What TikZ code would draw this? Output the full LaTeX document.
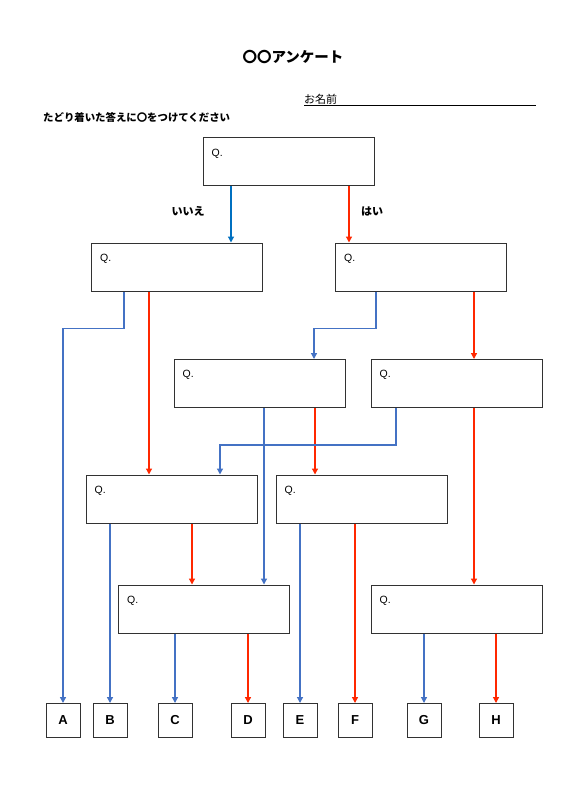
\documentclass[tikz,border=0pt]{standalone}
\usepackage{fontspec}
\setmainfont{Liberation Sans}
\newfontfamily\jp{Noto Sans CJK JP}
\usetikzlibrary{arrows.meta,positioning}
\definecolor{noblue}{RGB}{68,114,196}
\definecolor{topblue}{RGB}{0,112,192}
\definecolor{yesred}{RGB}{255,40,0}
\definecolor{boxgray}{RGB}{50,50,50}
\tikzset{
    qbox/.style={rectangle, draw=boxgray, line width=1pt, fill=white,
                 minimum width=171pt, minimum height=48pt,
                 label={[qlbl]north west:Q.}},
    qlbl/.style={anchor=north west, inner sep=0pt, xshift=9pt, yshift=-11pt,
                 font=\fontsize{10.5}{12}\selectfont},
    ansbox/.style={rectangle, draw=boxgray, line width=1pt,
                   minimum width=34pt, minimum height=34pt,
                   font=\fontsize{13}{15}\selectfont\bfseries},
    noarr/.style={-{Triangle[width=6pt,length=6pt]}, line width=1.3pt, draw=#1},
    noarr/.default=noblue,
    yesarr/.style={-{Triangle[width=6pt,length=6pt]}, line width=1.3pt, draw=yesred},
    lbl/.style={font=\jp\fontsize{11}{13}\selectfont\bfseries},
}
\begin{document}
\begin{tikzpicture}[x=1pt, y=-1pt]
    \useasboundingbox[fill=white] (0,0) rectangle (585,805);

    % Header
    \node[font=\jp\fontsize{14.5}{16}\selectfont\bfseries] (title) at (293,57) {〇〇アンケート};
    \node[anchor=south west, inner sep=0pt, font=\jp\fontsize{11}{13}\selectfont] (name) at (304,105) {お名前};
    \draw[line width=0.8pt] (name.south west) -- ++(232,0);
    \node[anchor=west, inner sep=0pt, font=\jp\fontsize{10.4}{12}\selectfont\bfseries] (note) at (43,118) {たどり着いた答えに〇をつけてください};

    % Question boxes
    \node[qbox] (q1) at (288.5,162) {};
    \node[qbox] (q2) at (177,267) {};
    \node[qbox] (q3) at (421,267) {};
    \node[qbox] (q4) at (259.5,383.5) {};
    \node[qbox] (q5) at (456.5,383.5) {};
    \node[qbox] (q6) at (171.5,499) {};
    \node[qbox] (q7) at (361.5,499) {};
    \node[qbox] (q8) at (204,609) {};
    \node[qbox] (q9) at (456.5,609) {};

    % Answer boxes
    \node[ansbox] (a) at (63,720.5)  {A};
    \node[ansbox] (b) at (110,720.5) {B};
    \node[ansbox] (c) at (175,720.5) {C};
    \node[ansbox] (d) at (248,720.5) {D};
    \node[ansbox] (e) at (300,720.5) {E};
    \node[ansbox] (f) at (355,720.5) {F};
    \node[ansbox] (g) at (424,720.5) {G};
    \node[ansbox] (h) at (496,720.5) {H};

    % First question
    \draw[noarr=topblue] ([xshift=-57.5pt]q1.south) -- ([xshift=-57.5pt]q1.south |- q2.north);
    \draw[yesarr]        ([xshift=60.5pt]q1.south) -- ([xshift=60.5pt]q1.south |- q3.north);
    \node[lbl] (no)  at (188,211) {いいえ};
    \node[lbl] (yes) at (372,211) {はい};

    % Second row
    \draw[noarr]  ([xshift=-53pt]q2.south) -- ++(0,37) -| (a.north);
    \draw[yesarr] ([xshift=-28pt]q2.south) -- ([xshift=-28pt]q2.south |- q6.north);
    \draw[noarr]  ([xshift=-45pt]q3.south) -- ++(0,37) -| ([xshift=54.5pt]q4.north);
    \draw[yesarr] ([xshift=53pt]q3.south) -- ([xshift=53pt]q3.south |- q5.north);

    % Third row
    \draw[noarr]  ([xshift=4.5pt]q4.south) -- ([xshift=4.5pt]q4.south |- q8.north);
    \draw[yesarr] ([xshift=55.5pt]q4.south) -- ([xshift=55.5pt]q4.south |- q7.north);
    \draw[noarr]  ([xshift=-60.5pt]q5.south) -- ++(0,37) -| ([xshift=48.5pt]q6.north);
    \draw[yesarr] ([xshift=17.5pt]q5.south) -- ([xshift=17.5pt]q5.south |- q9.north);

    % Fourth row
    \draw[noarr]  (b.north |- q6.south) -- (b.north);
    \draw[yesarr] ([xshift=20.5pt]q6.south) -- ([xshift=20.5pt]q6.south |- q8.north);
    \draw[noarr]  (e.north |- q7.south) -- (e.north);
    \draw[yesarr] (f.north |- q7.south) -- (f.north);

    % Last row
    \draw[noarr]  (c.north |- q8.south) -- (c.north);
    \draw[yesarr] (d.north |- q8.south) -- (d.north);
    \draw[noarr]  (g.north |- q9.south) -- (g.north);
    \draw[yesarr] (h.north |- q9.south) -- (h.north);
\end{tikzpicture}
\end{document}
